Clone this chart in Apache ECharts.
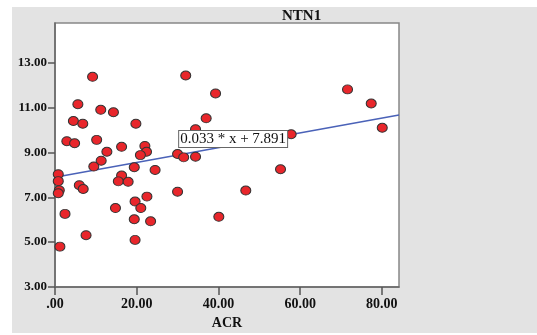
<!DOCTYPE html>
<html>
<head>
<meta charset="utf-8">
<script src="https://cdn.jsdelivr.net/npm/echarts@6/dist/echarts.min.js"></script>
<style>
  html, body { margin: 0; padding: 0; background: #fff; }
  #chart { width: 537px; height: 335px; }
</style>
</head>
<body>
<div id="chart"></div>
<script>
// ACR vs NTN1 values
var acr = [9.2, 5.6, 11.2, 14.3, 4.5, 6.8, 19.8, 2.9, 4.8, 10.2,
    12.7, 16.3, 22.0, 22.4, 20.9, 11.3, 9.5, 19.4, 24.5, 16.3,
    0.8, 0.8, 15.5, 17.9, 5.95, 6.9, 1.05, 0.8, 22.5, 19.6,
    14.8, 21.0, 2.45, 19.4, 23.4, 7.6, 19.6, 1.2, 32.0, 39.3,
    37.0, 34.4, 57.8, 30.0, 31.5, 34.4, 55.2, 30.0, 46.7, 40.1,
    71.6, 77.4, 80.1];
var ntn1 = [12.37, 11.15, 10.9, 10.79, 10.40, 10.28, 10.28, 9.50, 9.41, 9.56,
    9.03, 9.25, 9.29, 9.03, 8.88, 8.63, 8.37, 8.34, 8.22, 7.97,
    8.03, 7.72, 7.71, 7.69, 7.54, 7.37, 7.31, 7.18, 7.03, 6.81,
    6.52, 6.52, 6.26, 6.02, 5.93, 5.31, 5.10, 4.80, 12.43, 11.63,
    10.52, 10.03, 9.81, 8.93, 8.78, 8.81, 8.25, 7.25, 7.30, 6.13,
    11.81, 11.18, 10.10];
var xTicks = [0, 20, 40, 60, 80];
var yTicks = [3, 5, 7, 9, 11, 13];
var fitSlope = 0.033;
var fitIntercept = 7.891;

var xMax = 84.2;
var yMin = 3, yMax = 14.77;

var points = acr.map(function (v, i) { return [v, ntn1[i]]; });
var fitLine = [[0, fitIntercept], [xMax, fitIntercept + fitSlope * xMax]];

var serif = '"Liberation Serif", "DejaVu Serif", serif';
var tickFmt = function (v) { return v === 0 ? '.00' : v.toFixed(2); };

var chart = echarts.init(document.getElementById('chart'));
var option = {
    backgroundColor: '#ffffff',
    animation: false,
    graphic: [
        { type: 'rect', z: -10, shape: { x: 12, y: 7, width: 525, height: 326 }, style: { fill: '#e3e3e3' } }
    ],
    title: {
        text: 'NTN1',
        left: 277,
        top: 4,
        textStyle: { fontFamily: serif, fontSize: 15, fontWeight: 'bold', color: '#111' }
    },
    grid: {
        left: 55,
        top: 23,
        right: 138,
        bottom: 44,
        show: true,
        backgroundColor: '#ffffff',
        borderColor: '#888',
        borderWidth: 1.5
    },
    xAxis: {
        type: 'value',
        min: 0,
        max: xMax,
        name: 'ACR',
        nameLocation: 'middle',
        nameGap: 29,
        nameTextStyle: { fontFamily: serif, fontSize: 14, fontWeight: 'bold', color: '#111' },
        axisLine: { show: true, onZero: false, lineStyle: { color: '#666', width: 1.5 } },
        axisTick: { show: true, length: 8, customValues: xTicks, lineStyle: { color: '#555', width: 1.5 } },
        axisLabel: {
            customValues: xTicks,
            formatter: tickFmt,
            margin: 10,
            fontFamily: serif, fontSize: 14, fontWeight: 'bold', color: '#111'
        },
        splitLine: { show: false }
    },
    yAxis: {
        type: 'value',
        min: yMin,
        max: yMax,
        axisLine: { show: true, onZero: false, lineStyle: { color: '#666', width: 1.5 } },
        axisTick: { show: true, length: 7, customValues: yTicks, lineStyle: { color: '#555', width: 1.5 } },
        axisLabel: {
            customValues: yTicks,
            formatter: tickFmt,
            margin: 8,
            fontFamily: serif, fontSize: 13, fontWeight: 'bold', color: '#111'
        },
        splitLine: { show: false }
    },
    series: [
        {
            type: 'line',
            data: fitLine,
            symbol: 'none',
            lineStyle: { color: '#4a62b8', width: 1.5 },
            z: 2,
            markPoint: {
                symbol: 'rect',
                symbolSize: 0,
                data: [{ coord: [43.6, 9.6] }],
                label: {
                    show: true,
                    formatter: fitSlope + ' * x + ' + fitIntercept,
                    fontFamily: serif,
                    fontSize: 15,
                    color: '#111',
                    backgroundColor: '#fff',
                    borderColor: '#666',
                    borderWidth: 1,
                    padding: [1, 1, 0, 1]
                }
            }
        },
        {
            type: 'scatter',
            data: points,
            symbol: 'circle',
            symbolSize: [10, 9],
            itemStyle: { color: '#e8262b', borderColor: '#333', borderWidth: 1, opacity: 1 },
            z: 3
        }
    ]
};
chart.setOption(option);
window.addEventListener('resize', function () {
    chart.resize();
});
</script>
</body>
</html>
